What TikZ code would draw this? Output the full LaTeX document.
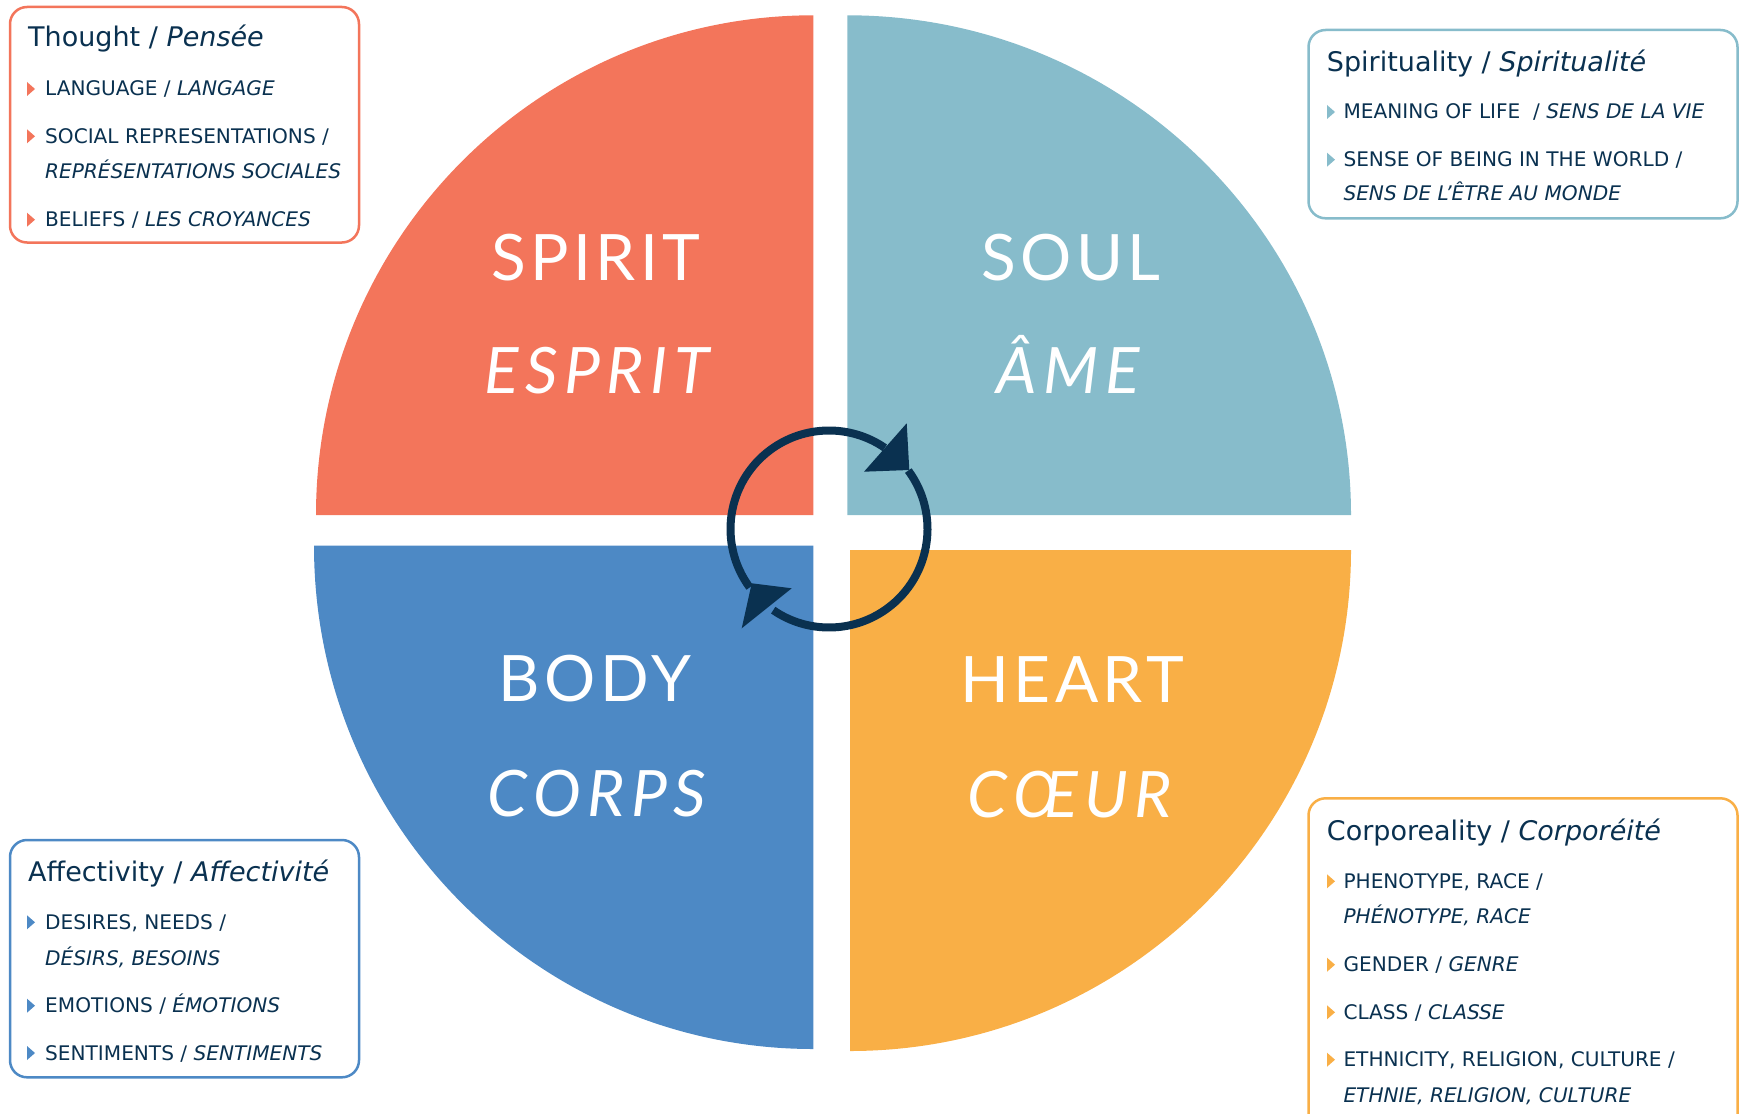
\documentclass[tikz,border=0pt]{standalone}
\usepackage{fontspec}
\usetikzlibrary{calc}
\setmainfont{Lato}
\newfontfamily\boxfont{DejaVu Sans}
\definecolor{spiritc}{HTML}{F3755B}
\definecolor{soulc}{HTML}{87BCCB}
\definecolor{bodyc}{HTML}{4D89C5}
\definecolor{heartc}{HTML}{F9AF46}
\definecolor{navy}{HTML}{0A3150}
\tikzset{
  bigword/.style={text=white, anchor=base, inner sep=0pt, font=\fontsize{64}{70}\selectfont\addfontfeature{LetterSpace=7}},
  bigital/.style={text=white, anchor=base, inner sep=0pt, font=\fontsize{64}{70}\selectfont\itshape\addfontfeature{LetterSpace=10}},
  boxframe/.style={draw, line width=2.5pt, rounded corners=17pt, fill=white},
  boxtitle/.style={anchor=base west, inner sep=0pt, text=navy, font=\boxfont\fontsize{27}{30}\selectfont},
  boxitem/.style={anchor=base west, inner sep=0pt, text=navy, font=\boxfont\fontsize{20.1}{22}\selectfont},
  cycleline/.style={draw=navy, line width=8pt},
}
\newcommand\bulletmark[3]{\fill[#1] (#2,#3) -- ++(0,-14) -- ++(8,7) -- cycle;}
\begin{document}
\begin{tikzpicture}[x=1pt,y=-1pt]
\useasboundingbox (0,0) rectangle (1739,1113);
% quadrants
\fill[spiritc] (813.3,515) -- (316,515) arc[start angle=180, end angle=270, x radius=497.3, y radius=499.7] -- cycle;
\fill[soulc] (847.3,515) -- (847.3,15.3) arc[start angle=270, end angle=360, x radius=503.7, y radius=499.7] -- cycle;
\fill[bodyc] (813.3,545.7) -- (813.3,1049) arc[start angle=90, end angle=180, x radius=499.3, y radius=503.3] -- cycle;
\fill[heartc] (850,550) -- (1351,550) arc[start angle=0, end angle=90, radius=501] -- cycle;
% quadrant words
\node[bigword] (spirit) at (596,280) {SPIRIT};
\node[bigital] (esprit) at (597,393) {ESPRIT};
\node[bigword] (soul) at (1071,280) {SOUL};
\node[bigital] (ame) at (1068,393) {ÂME};
\node[bigword] (body) at (595,701) {BODY};
\node[bigital] (corps) at (597,816) {CORPS};
\node[bigword] (heart) at (1072,702) {HEART};
\node[bigital] (coeur) at (1070,817) {CŒUR};
% cycle
\coordinate (c) at (829,529);
\draw[cycleline] ($(c)+(143.6:98.5)$) arc[start angle=143.6, end angle=304.5, radius=98.5];
\draw[cycleline] ($(c)+(323.6:98.5)$) arc[start angle=323.6, end angle=484.5, radius=98.5];
\fill[navy] (906.7,423.3) -- (864,471.7) -- (909.3,470) -- cycle;
\fill[navy] (741.7,628.3) -- (791.7,588.3) -- (751.7,583.3) -- cycle;
% Thought box
\draw[boxframe, draw=spiritc] (10,7) rectangle (359,242.5);
\node[boxtitle] (t0) at (28,46.7) {Thought / \textit{Pensée}};
\bulletmark{spiritc}{27}{96}
\node[boxitem] (t1) at (45,96) {LANGUAGE / \textit{LANGAGE}};
\bulletmark{spiritc}{27}{143.3}
\node[boxitem] (t2) at (45,143.3) {SOCIAL REPRESENTATIONS /};
\node[boxitem] (t2b) at (45,178.3) {\textit{REPRÉSENTATIONS SOCIALES}};
\bulletmark{spiritc}{27}{226.7}
\node[boxitem] (t3) at (45,226.7) {BELIEFS / \textit{LES CROYANCES}};
% Spirituality box
\draw[boxframe, draw=soulc] (1308.5,30) rectangle (1737.5,218.3);
\node[boxtitle] (s0) at (1326.7,71.7) {Spirituality / \textit{Spiritualité}};
\bulletmark{soulc}{1327}{119}
\node[boxitem] (s1) at (1343.3,119) {MEANING OF LIFE~~/ \textit{SENS DE LA VIE}};
\bulletmark{soulc}{1327}{166.7}
\node[boxitem] (s2) at (1343.3,166.7) {SENSE OF BEING IN THE WORLD /};
\node[boxitem] (s2b) at (1343.3,200) {\textit{SENS DE L’ÊTRE AU MONDE}};
% Affectivity box
\draw[boxframe, draw=bodyc] (10,840) rectangle (359,1077.3);
\node[boxtitle] (a0) at (28,881.7) {Affectivity / \textit{Affectivité}};
\bulletmark{bodyc}{27}{929.3}
\node[boxitem] (a1) at (45,929.3) {DESIRES, NEEDS /};
\node[boxitem] (a1b) at (45,965) {\textit{DÉSIRS, BESOINS}};
\bulletmark{bodyc}{27}{1012.7}
\node[boxitem] (a2) at (45,1012.7) {EMOTIONS / \textit{ÉMOTIONS}};
\bulletmark{bodyc}{27}{1060}
\node[boxitem] (a3) at (45,1060) {SENTIMENTS / \textit{SENTIMENTS}};
% Corporeality box
\draw[boxframe, draw=heartc] (1308.5,798.3) rectangle (1737.5,1135);
\node[boxtitle] (k0) at (1326.7,840) {Corporeality / \textit{Corporéité}};
\bulletmark{heartc}{1327}{888.3}
\node[boxitem] (k1) at (1343.3,888.3) {PHENOTYPE, RACE /};
\node[boxitem] (k1b) at (1343.3,923.3) {\textit{PHÉNOTYPE, RACE}};
\bulletmark{heartc}{1327}{971.7}
\node[boxitem] (k2) at (1343.3,971.7) {GENDER / \textit{GENRE}};
\bulletmark{heartc}{1327}{1019.3}
\node[boxitem] (k3) at (1343.3,1019.3) {CLASS / \textit{CLASSE}};
\bulletmark{heartc}{1327}{1066.7}
\node[boxitem] (k4) at (1343.3,1066.7) {ETHNICITY, RELIGION, CULTURE /};
\node[boxitem] (k4b) at (1343.3,1102.3) {\textit{ETHNIE, RELIGION, CULTURE}};
\end{tikzpicture}
\end{document}
